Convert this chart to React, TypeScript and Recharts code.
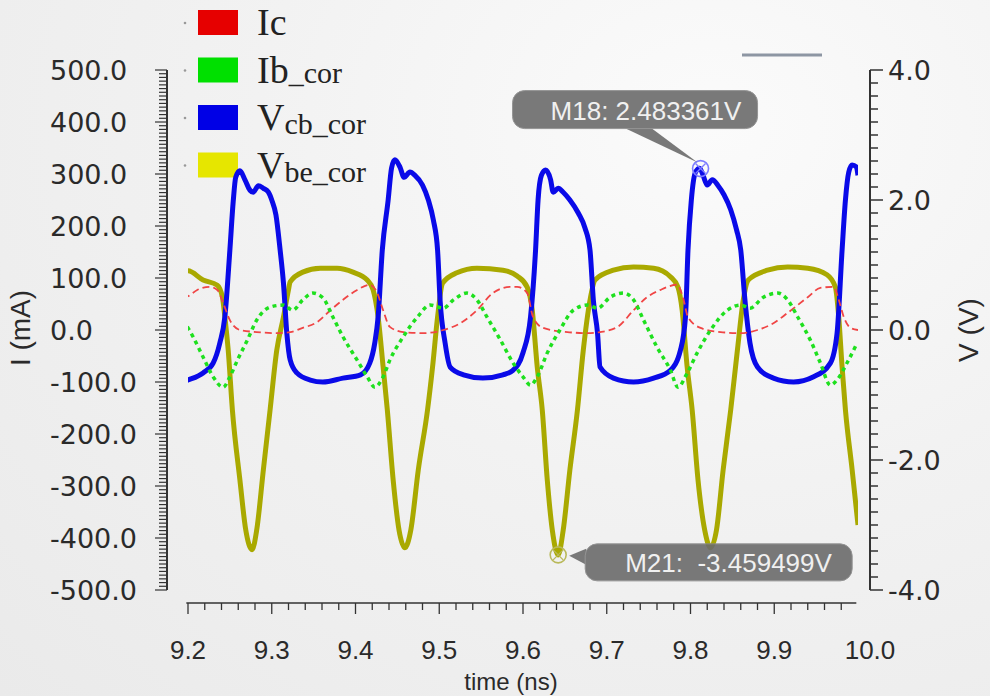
import React from "react";
import { LineChart, Line, XAxis, YAxis, ReferenceDot, ReferenceLine } from "recharts";

// tick labels
const xMajorTicks = [9.2, 9.3, 9.4, 9.5, 9.6, 9.7, 9.8, 9.9, 10.0];
const iMajorTicks = [-500, -400, -300, -200, -100, 0, 100, 200, 300, 400, 500];
const vMajorTicks = [-4, -2, 0, 2, 4];

// Ic (mA) – [time ns, value]
const icPoints: [number, number][] = [
  [9.194, 62], [9.2, 65], [9.211, 77], [9.226, 83], [9.235, 77], [9.242, 52], [9.25, 19], [9.262, 0],
  [9.282, -4], [9.306, -6], [9.322, -4], [9.337, 4], [9.354, 15], [9.37, 38], [9.385, 58], [9.402, 77],
  [9.417, 87], [9.426, 71], [9.433, 38], [9.441, 6], [9.457, -4], [9.481, -6], [9.505, 0], [9.525, 13],
  [9.545, 38], [9.564, 71], [9.585, 83], [9.593, 83], [9.605, 71], [9.612, 25], [9.624, 4], [9.653, -4],
  [9.677, -6], [9.692, -4], [9.713, 6], [9.732, 38], [9.748, 63], [9.764, 77], [9.784, 87], [9.791, 63],
  [9.797, 25], [9.812, 4], [9.836, -4], [9.86, -6], [9.88, 0], [9.899, 13], [9.916, 33], [9.94, 63],
  [9.955, 81], [9.971, 83], [9.977, 58], [9.983, 25], [9.991, 4], [10.0, 0],
];

// Ib_cor (mA)
const ibPoints: [number, number][] = [
  [9.194, 19], [9.2, 4], [9.206, -13], [9.218, -52], [9.23, -90], [9.242, -110], [9.25, -90], [9.259, -58],
  [9.271, -19], [9.282, 19], [9.298, 44], [9.314, 48], [9.325, 38], [9.337, 58], [9.349, 71], [9.361, 62],
  [9.373, 25], [9.385, -13], [9.402, -58], [9.414, -90], [9.423, -110], [9.433, -90], [9.441, -58], [9.457, -13],
  [9.474, 25], [9.489, 48], [9.505, 42], [9.517, 58], [9.533, 71], [9.545, 58], [9.557, 25], [9.573, -19],
  [9.588, -63], [9.6, -90], [9.609, -106], [9.617, -90], [9.629, -44], [9.644, 0], [9.66, 38], [9.677, 48],
  [9.689, 42], [9.704, 63], [9.72, 71], [9.732, 58], [9.744, 19], [9.76, -33], [9.776, -77], [9.785, -110],
  [9.796, -83], [9.808, -44], [9.824, 0], [9.844, 38], [9.86, 48], [9.871, 42], [9.887, 63], [9.904, 71],
  [9.916, 58], [9.928, 25], [9.943, -19], [9.955, -63], [9.967, -106], [9.975, -96], [9.987, -63], [9.999, -25],
];

// Vcb_cor (V)
const vcbPoints: [number, number][] = [
  [9.194, -0.8], [9.2, -0.77], [9.218, -0.66], [9.23, -0.51], [9.238, -0.2], [9.244, 0.2], [9.25, 1.23],
  [9.254, 1.98], [9.257, 2.35], [9.262, 2.45], [9.268, 2.31], [9.274, 2.15], [9.278, 2.12], [9.284, 2.22],
  [9.29, 2.18], [9.296, 2.12], [9.3, 2.0], [9.305, 1.77], [9.31, 1.23], [9.314, 0.72], [9.318, -0.05],
  [9.322, -0.46], [9.33, -0.66], [9.346, -0.77], [9.361, -0.8], [9.385, -0.74], [9.406, -0.69], [9.417, -0.51],
  [9.423, -0.2], [9.427, 0.2], [9.432, 1.23], [9.439, 2.0], [9.443, 2.49], [9.447, 2.62], [9.453, 2.51],
  [9.458, 2.35], [9.465, 2.43], [9.471, 2.38], [9.48, 2.23], [9.487, 2.0], [9.493, 1.69], [9.498, 1.23],
  [9.501, 0.46], [9.507, -0.2], [9.513, -0.57], [9.529, -0.69], [9.552, -0.74], [9.576, -0.69], [9.588, -0.62],
  [9.6, -0.35], [9.609, 0.2], [9.615, 1.23], [9.618, 2.0], [9.622, 2.38], [9.627, 2.46], [9.633, 2.31],
  [9.636, 2.12], [9.642, 2.18], [9.648, 2.12], [9.656, 2.0], [9.666, 1.8], [9.674, 1.57], [9.68, 1.23],
  [9.684, 0.46], [9.689, -0.05], [9.692, -0.57], [9.708, -0.74], [9.732, -0.8], [9.756, -0.74], [9.776, -0.62],
  [9.788, -0.31], [9.794, 0.2], [9.797, 1.23], [9.801, 2.0], [9.806, 2.43], [9.811, 2.49], [9.815, 2.38],
  [9.82, 2.23], [9.826, 2.31], [9.833, 2.22], [9.84, 2.08], [9.848, 1.85], [9.855, 1.54], [9.86, 1.23],
  [9.865, 0.46], [9.871, -0.2], [9.88, -0.57], [9.899, -0.74], [9.923, -0.8], [9.947, -0.72], [9.967, -0.51],
  [9.975, -0.05], [9.981, 1.23], [9.985, 2.0], [9.989, 2.43], [9.993, 2.54], [9.998, 2.51], [10.0, 2.38],
];

// Vbe_cor (V)
const vbePoints: [number, number][] = [
  [9.194, 0.89], [9.2, 0.91], [9.218, 0.77], [9.235, 0.69], [9.241, 0.51], [9.244, 0.2], [9.248, -0.31],
  [9.253, -1.23], [9.262, -2.31], [9.269, -3.08], [9.2765, -3.38], [9.282, -3.08], [9.29, -2.15], [9.298, -1.23],
  [9.306, -0.31], [9.314, 0.2], [9.32, 0.62], [9.322, 0.74], [9.337, 0.89], [9.358, 0.95], [9.378, 0.95],
  [9.397, 0.89], [9.414, 0.77], [9.421, 0.62], [9.427, 0.2], [9.433, -0.57], [9.438, -1.23], [9.445, -2.31],
  [9.452, -3.08], [9.459, -3.35], [9.466, -3.08], [9.475, -2.15], [9.486, -1.23], [9.492, -0.57], [9.498, 0.2],
  [9.504, 0.72], [9.521, 0.88], [9.545, 0.95], [9.576, 0.92], [9.593, 0.83], [9.605, 0.66], [9.611, 0.31],
  [9.617, -0.57], [9.623, -1.23], [9.629, -2.31], [9.635, -3.08], [9.642, -3.46], [9.648, -3.08], [9.656, -2.15],
  [9.665, -1.23], [9.672, -0.31], [9.68, 0.46], [9.686, 0.77], [9.708, 0.92], [9.732, 0.97], [9.756, 0.95],
  [9.776, 0.82], [9.785, 0.66], [9.79, 0.31], [9.796, -0.57], [9.802, -1.23], [9.809, -2.31], [9.817, -3.08],
  [9.824, -3.35], [9.831, -3.08], [9.839, -2.15], [9.848, -1.23], [9.856, -0.31], [9.863, 0.46], [9.869, 0.77],
  [9.892, 0.92], [9.916, 0.97], [9.94, 0.95], [9.963, 0.85], [9.973, 0.66], [9.977, 0.2], [9.981, -0.57],
  [9.985, -1.23], [9.993, -2.15], [10.0, -3.0],
];

const markers = [
  { name: "M18", t: 9.812, v: 2.483361, label: "M18: 2.483361V", ring: "#7d7dff" },
  { name: "M21", t: 9.642, v: -3.459499, label: "M21:  -3.459499V", ring: "#b9b95a" },
];

const legendItems = [
  { main: "Ic", sub: "", color: "#e60000" },
  { main: "Ib", sub: "_cor", color: "#00e000" },
  { main: "V", sub: "cb_cor", color: "#0000e6" },
  { main: "V", sub: "be_cor", color: "#e6e600" },
];

const toRows = (pts: [number, number][]) => pts.map(([t, v]) => ({ t, v }));

// minor tick positions
const xTicks = Array.from({ length: 40 }, (_, i) => Math.round((9.2 + i * 0.02) * 1000) / 1000);
const iTicks = Array.from({ length: 141 }, (_, i) => -500 + (i * 100) / 14);
const vTicks = Array.from({ length: 41 }, (_, i) => Math.round((-4 + i * 0.2) * 100) / 100);
xTicks.push(10.0);

const isMajor = (v: number, majors: number[]) => majors.some((m) => Math.abs(m - v) < 1e-6);

const PLOT_LEFT = 167;
const PLOT_RIGHT = 870;
const X_AXIS_Y = 603;
const AXIS_COLOR = "#333";
const tickFont = "'DejaVu Sans', Verdana, sans-serif";
const xFont = "'Liberation Sans', Arial, sans-serif";

const XTick = (props: any) => {
  const { x, payload } = props;
  const major = isMajor(payload.value, xMajorTicks);
  const last = Math.abs(payload.value - 10) < 1e-6;
  return (
    <g>
      {!last && (
        <line x1={x} x2={x} y1={X_AXIS_Y} y2={major ? X_AXIS_Y + 11 : X_AXIS_Y + 7} stroke={AXIS_COLOR} strokeWidth={1.3} />
      )}
      {major && (
        <text x={last ? x + 12 : x} y={X_AXIS_Y + 56} textAnchor="middle" fontFamily={xFont} fontSize={26} fill="#2a2a2a">
          {payload.value.toFixed(1)}
        </text>
      )}
    </g>
  );
};

const LeftTick = (props: any) => {
  const { y, payload } = props;
  const major = isMajor(payload.value, iMajorTicks);
  return (
    <g>
      <line x1={major ? PLOT_LEFT - 12 : PLOT_LEFT - 8} x2={PLOT_LEFT} y1={y} y2={y} stroke={AXIS_COLOR} strokeWidth={1.2} />
      {major && (
        <text x={50} y={y} dominantBaseline="central" fontFamily={tickFont} fontSize={27} fill="#2a2a2a">
          {payload.value.toFixed(1)}
        </text>
      )}
    </g>
  );
};

const RightTick = (props: any) => {
  const { y, payload } = props;
  const major = isMajor(payload.value, vMajorTicks);
  return (
    <g>
      <line x1={PLOT_RIGHT} x2={major ? PLOT_RIGHT + 13 : PLOT_RIGHT + 8} y1={y} y2={y} stroke={AXIS_COLOR} strokeWidth={1.5} />
      {major && (
        <text x={888} y={y} dominantBaseline="central" fontFamily={tickFont} fontSize={27} fill="#2a2a2a">
          {payload.value.toFixed(1)}
        </text>
      )}
    </g>
  );
};

const markerShape = (m: (typeof markers)[number]) => (props: any) => {
  const { cx, cy } = props;
  const above = m.v > 0;
  const box = above
    ? { x: cx - 188, y: cy - 78, w: 245, h: 38 }
    : { x: cx + 27, y: cy - 11, w: 267, h: 37 };
  const pointer = above
    ? `${cx - 77},${cy - 41} ${cx - 50},${cy - 41} ${cx - 3},${cy - 6}`
    : `${cx + 28},${cy - 6} ${cx + 28},${cy + 10} ${cx + 11},${cy + 1}`;
  const tx = above ? cx - 150 : cx + 67;
  const ty = above ? cy - 58 : cy + 8;
  return (
    <g>
      <circle cx={cx} cy={cy} r={8} fill="none" stroke={m.ring} strokeWidth={1.6} />
      <line x1={cx - 5} y1={cy - 5} x2={cx + 5} y2={cy + 5} stroke={m.ring} strokeWidth={1.3} />
      <line x1={cx - 5} y1={cy + 5} x2={cx + 5} y2={cy - 5} stroke={m.ring} strokeWidth={1.3} />
      <g opacity={0.9}>
        <polygon points={pointer} fill="#6c6c6c" />
        <rect x={box.x} y={box.y} width={box.w} height={box.h} rx={12} fill="#6c6c6c" stroke="#8a8a8a" strokeWidth={1} />
      </g>
      <text x={tx} y={ty} dominantBaseline="central" fontFamily="'Liberation Sans', Arial, sans-serif" fontSize={26} fill="#f0f0f0" style={{ whiteSpace: "pre" }}>
        {m.label}
      </text>
    </g>
  );
};

export default function App() {
  return (
    <div
      style={{
        position: "absolute",
        left: 0,
        top: 0,
        width: 990,
        height: 696,
        overflow: "hidden",
        background: "radial-gradient(ellipse at 72% 18%, #fbfbfb 0%, #f2f2f2 45%, #eaeaea 100%)",
      }}
    >
      <svg width={990} height={696} style={{ position: "absolute", left: 0, top: 0 }}>
        {legendItems.map((it, i) => {
          const top = 10 + i * 47.5;
          return (
            <g key={it.main + it.sub}>
              <circle cx={185} cy={top + 13} r={1.3} fill="#999" />
              <rect x={198} y={top} width={40} height={25} fill={it.color} />
              <text x={257} y={top + 25} fontFamily="'Liberation Serif', 'Times New Roman', serif" fontSize={38} fill="#222">
                {it.main}
                {it.sub && (
                  <tspan fontSize={30} dy={it.main === "V" ? 4 : 0}>
                    {it.sub}
                  </tspan>
                )}
              </text>
            </g>
          );
        })}
        <text
          transform="translate(30,328) rotate(-90)"
          textAnchor="middle"
          fontFamily="'Liberation Sans', Arial, sans-serif"
          fontSize={28}
          fill="#2a2a2a"
        >
          I (mA)
        </text>
        <text
          transform="translate(978,330) rotate(-90)"
          textAnchor="middle"
          fontFamily="'Liberation Sans', Arial, sans-serif"
          fontSize={28}
          fill="#2a2a2a"
        >
          V (V)
        </text>
        <text x={511} y={690} textAnchor="middle" fontFamily={xFont} fontSize={24} fill="#2a2a2a">
          time (ns)
        </text>
        <line x1={742} x2={822} y1={55} y2={55} stroke="#8d96a3" strokeWidth={3} />
      </svg>
      <div style={{ position: "absolute", left: 0, top: 0 }}>
        <LineChart width={990} height={696} margin={{ top: 70, right: 0, bottom: 0, left: 0 }}>
          <XAxis
            dataKey="t"
            type="number"
            domain={[9.2, 10.0]}
            allowDataOverflow
            ticks={xTicks}
            interval={0}
            tick={XTick}
            tickLine={false}
            axisLine={false}
            height={106}
            padding={{ left: 21, right: 12 }}
          />
          <YAxis
            yAxisId="mA"
            orientation="left"
            width={PLOT_LEFT}
            domain={[-500, 500]}
            allowDataOverflow
            ticks={iTicks}
            interval={0}
            tick={LeftTick}
            tickLine={false}
            axisLine={{ stroke: AXIS_COLOR, strokeWidth: 2 }}
          />
          <YAxis
            yAxisId="V"
            orientation="right"
            width={990 - PLOT_RIGHT}
            domain={[-4, 4]}
            allowDataOverflow
            ticks={vTicks}
            interval={0}
            tick={RightTick}
            tickLine={false}
            axisLine={{ stroke: AXIS_COLOR, strokeWidth: 2 }}
          />
          <ReferenceLine
            yAxisId="mA"
            segment={[{ x: 9.198, y: -525 }, { x: 9.998, y: -525 }]}
            ifOverflow="visible"
            stroke={AXIS_COLOR}
            strokeWidth={1.5}
          />
          <Line
            yAxisId="V"
            data={toRows(vbePoints)}
            dataKey="v"
            type="monotone"
            stroke="#a9a900"
            strokeWidth={5}
            dot={false}
            isAnimationActive={false}
          />
          <Line
            yAxisId="V"
            data={toRows(vcbPoints)}
            dataKey="v"
            type="monotone"
            stroke="#0a0ae8"
            strokeWidth={5}
            dot={false}
            isAnimationActive={false}
          />
          <Line
            yAxisId="mA"
            data={toRows(icPoints)}
            dataKey="v"
            type="monotone"
            stroke="#f04545"
            strokeWidth={1.8}
            strokeDasharray="7 4"
            dot={false}
            isAnimationActive={false}
          />
          <Line
            yAxisId="mA"
            data={toRows(ibPoints)}
            dataKey="v"
            type="monotone"
            stroke="#1ee01e"
            strokeWidth={3.5}
            strokeDasharray="4 4"
            dot={false}
            isAnimationActive={false}
          />
          {markers.map((m) => (
            <ReferenceDot
              key={m.name}
              yAxisId="V"
              x={m.t}
              y={m.v}
              r={8}
              ifOverflow="visible"
              shape={markerShape(m)}
            />
          ))}
        </LineChart>
      </div>
    </div>
  );
}
